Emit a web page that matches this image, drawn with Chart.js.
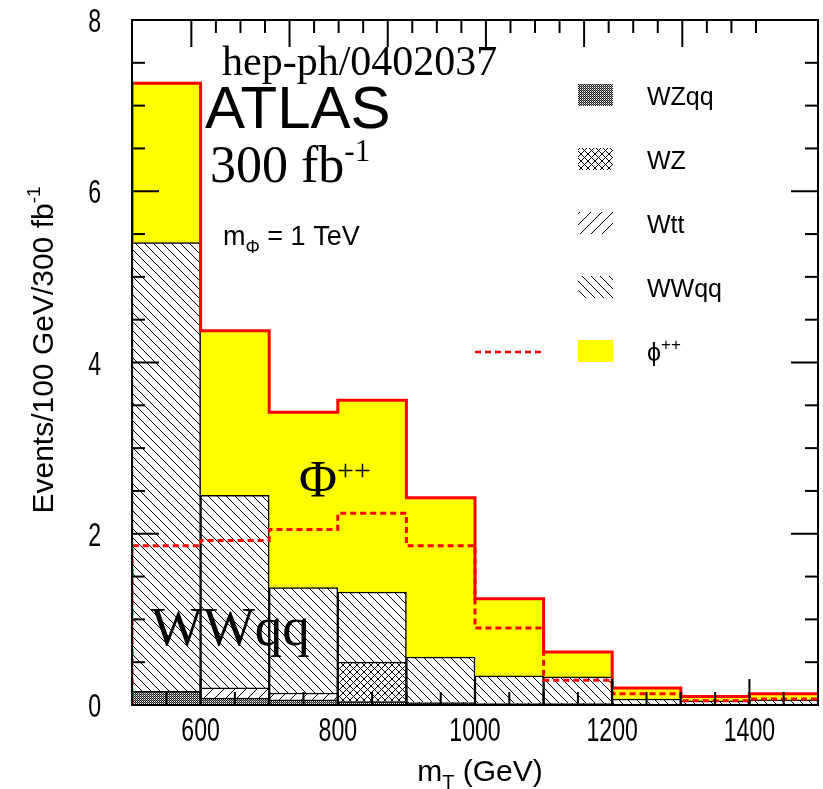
<!DOCTYPE html>
<html lang="en">
<head>
  <meta charset="UTF-8">
  <title>Phi++ transverse mass, ATLAS 300 fb-1</title>
  <script src="https://cdn.jsdelivr.net/npm/chart.js"></script>
  <style>
    body { margin: 0; background: #ffffff; }
    canvas { display: block; }
  </style>
</head>
<body>
  <canvas id="mtChart" width="823" height="789"></canvas>

  <script>
    // 100 GeV bins from 500 to 1500 GeV
    const binCentres = [550, 650, 750, 850, 950, 1050, 1150, 1250, 1350, 1450];
    const binEdges = [500, 600, 700, 800, 900, 1000, 1100, 1200, 1300, 1400, 1500];

    // stacked contributions, bottom to top (events / 100 GeV / 300 fb-1)
    const wzqq = [0.16, 0.08, 0.06, 0.04, 0.02, 0.01, 0.01, 0.01, 0.01, 0.01];
    const wz   = [0.00, 0.00, 0.00, 0.46, 0.00, 0.00, 0.00, 0.00, 0.00, 0.00];
    const wtt  = [0.00, 0.12, 0.08, 0.00, 0.01, 0.01, 0.01, 0.00, 0.00, 0.00];
    const wwqq = [5.24, 2.25, 1.23, 0.82, 0.53, 0.32, 0.31, 0.06, 0.04, 0.05];
    const phi  = [1.86, 1.92, 2.05, 2.24, 1.86, 0.90, 0.29, 0.13, 0.05, 0.07];

    const xTickLabels = [600, 800, 1000, 1200, 1400];
    const yTickLabels = [0, 2, 4, 6, 8];

    const SANS = "'Liberation Sans', Arial, sans-serif";
    const SERIF = "'Liberation Serif', 'Times New Roman', serif";

    // hatch fills
    function makePattern(kind) {
      const c = document.createElement('canvas');
      const g = c.getContext('2d');
      const s = { back: 9, fwd: 11, cross: 7, dots: 2 }[kind];
      c.width = s; c.height = s;
      g.fillStyle = '#fff';
      g.fillRect(0, 0, s, s);
      g.strokeStyle = '#000';
      g.lineWidth = 1;
      const diag = (dir) => {
        for (let k = -1; k <= 1; k++) {
          g.beginPath();
          if (dir > 0) { g.moveTo(k * s, 0); g.lineTo(k * s + s, s); }
          else { g.moveTo(k * s, s); g.lineTo(k * s + s, 0); }
          g.stroke();
        }
      };
      if (kind === 'back') diag(1);
      if (kind === 'fwd') diag(-1);
      if (kind === 'cross') { diag(1); diag(-1); }
      if (kind === 'dots') {
        g.fillStyle = '#222'; g.fillRect(0, 0, 1, 1); g.fillRect(1, 1, 1, 1);
        g.fillStyle = '#888'; g.fillRect(1, 0, 1, 1);
      }
      return g.createPattern(c, 'repeat');
    }

    const toXY = (vals) => vals.map((v, i) => ({ x: binCentres[i], y: v }));

    const background = binCentres.map((_, i) => wzqq[i] + wz[i] + wtt[i] + wwqq[i]);
    const total = background.map((b, i) => b + phi[i]);

    // step outlines along the bin edges
    function stepOutline(start, vals) {
      const pts = [{ x: binEdges[0], y: start }];
      vals.forEach((v, i) => pts.push({ x: binEdges[i], y: v }));
      pts.push({ x: binEdges[binEdges.length - 1], y: vals[vals.length - 1] });
      return pts;
    }

    function hist(label, vals, fill) {
      return {
        type: 'bar', label: label, data: toXY(vals),
        backgroundColor: fill, borderColor: '#000', borderWidth: 1.5,
        barPercentage: 1, categoryPercentage: 1, order: 3
      };
    }

    // text with sub/superscripts: parts = [text, font, dy]
    function drawParts(ctx, x, y, parts) {
      let cx = x;
      parts.forEach(([t, font, dy]) => {
        ctx.font = font;
        ctx.fillText(t, cx, y + (dy || 0));
        cx += ctx.measureText(t).width;
      });
      return cx - x;
    }
    function partsWidth(ctx, parts) {
      let w = 0;
      parts.forEach(([t, font]) => { ctx.font = font; w += ctx.measureText(t).width; });
      return w;
    }
    // narrow tick numbers
    function condensed(ctx, text, x, y, align) {
      ctx.save();
      ctx.translate(x, y);
      ctx.scale(0.7, 1);
      ctx.textAlign = align;
      ctx.font = '33px ' + SANS;
      ctx.fillText(text, 0, 0);
      ctx.restore();
    }

    const framePlugin = {
      id: 'frame',
      afterDatasetsDraw(chart) {
        const { ctx, chartArea: a, scales } = chart;
        const seg = (x1, y1, x2, y2) => { ctx.beginPath(); ctx.moveTo(x1, y1); ctx.lineTo(x2, y2); ctx.stroke(); };
        const whole = (v) => Math.abs(v - Math.round(v)) < 1e-6;
        ctx.save();
        ctx.strokeStyle = '#000';
        ctx.fillStyle = '#000';
        ctx.lineWidth = 2;
        const xs = scales.x, ys = scales.y;
        xs.ticks.forEach((t, i) => {
          const px = xs.getPixelForValue(t.value);
          if (t.value > xs.min && t.value < xs.max) {
            seg(px, a.bottom, px, a.bottom - (t.value % 200 === 0 ? 26 : 13));
          }
          if (i > 0) {
            const mid = xs.getPixelForValue((t.value + xs.ticks[i - 1].value) / 2);
            seg(mid, a.bottom, mid, a.bottom - 13);
          }
          if (xTickLabels.includes(t.value)) condensed(ctx, String(t.value), px, a.bottom + 36, 'center');
        });
        scales.xTop.ticks.forEach(t => {
          if (!whole(t.value)) return;
          const px = scales.xTop.getPixelForValue(t.value);
          seg(px, a.top, px, a.top + (Math.round(t.value) % 4 === 0 ? 27 : 13));
        });
        ys.ticks.forEach(t => {
          const py = ys.getPixelForValue(t.value);
          if (t.value > ys.min && t.value < ys.max) {
            const len = t.value % 2 === 0 ? 27 : 13;
            seg(a.left, py, a.left + len, py);
            seg(a.right, py, a.right - len, py);
          }
          if (yTickLabels.includes(t.value)) condensed(ctx, String(t.value), a.left - 31, py + 12, 'right');
        });
        ctx.strokeRect(a.left, a.top, a.right - a.left, a.bottom - a.top);
        ctx.restore();
      }
    };

    const textPlugin = {
      id: 'texts',
      afterDraw(chart) {
        const ctx = chart.ctx;
        ctx.save();
        ctx.fillStyle = '#000';
        ctx.textBaseline = 'alphabetic';
        ctx.textAlign = 'left';

        drawParts(ctx, 222, 75, [['hep-ph/0402037', '42px ' + SERIF]]);
        drawParts(ctx, 205, 128, [['ATLAS', '60px ' + SANS]]);
        drawParts(ctx, 210, 182, [['300 fb', '52px ' + SERIF], ['-1', '31px ' + SERIF, -21]]);
        drawParts(ctx, 223, 245, [['m', '27px ' + SANS], ['\u03A6', '18px ' + SANS, 8], [' = 1 TeV', '27px ' + SANS]]);
        drawParts(ctx, 299, 497, [['\u03A6', '52px ' + SERIF], ['++', '30px ' + SERIF, -17]]);
        drawParts(ctx, 151, 645, [['WWqq', '55px ' + SERIF]]);

        // legend
        const bars = chart.data.datasets.filter(d => d.type === 'bar');
        bars.forEach((d, i) => {
          const top = 84 + i * 64;
          ctx.fillStyle = d.backgroundColor;
          ctx.fillRect(578, top, 35, 22);
          ctx.fillStyle = '#000';
          if (d.label.endsWith('++')) {
            drawParts(ctx, 647, top + 21, [[d.label.slice(0, -2), '25px ' + SANS], ['++', '17px ' + SANS, -11]]);
          } else {
            drawParts(ctx, 647, top + 21, [[d.label, '25px ' + SANS]]);
          }
        });
        const dash = chart.data.datasets.find(d => d.label === 'signal');
        ctx.strokeStyle = dash.borderColor;
        ctx.lineWidth = 2.5;
        ctx.setLineDash(dash.borderDash);
        ctx.beginPath();
        ctx.moveTo(475, 352);
        ctx.lineTo(545, 352);
        ctx.stroke();
        ctx.setLineDash([]);

        // axis titles
        const xt = [['m', '30px ' + SANS], ['T', '20px ' + SANS, 8], [' (GeV)', '30px ' + SANS]];
        drawParts(ctx, 480 - partsWidth(ctx, xt) / 2, 781, xt);
        const yt = [['Events/100 GeV/300 fb', '30px ' + SANS], ['-1', '19px ' + SANS, -13]];
        ctx.translate(53, 350);
        ctx.rotate(-Math.PI / 2);
        drawParts(ctx, -partsWidth(ctx, yt) / 2, 0, yt);
        ctx.restore();
      }
    };

    new Chart(document.getElementById('mtChart'), {
      type: 'bar',
      data: {
        datasets: [
          hist('WZqq', wzqq, makePattern('dots')),
          hist('WZ', wz, makePattern('cross')),
          hist('Wtt', wtt, makePattern('fwd')),
          hist('WWqq', wwqq, makePattern('back')),
          {
            type: 'bar', label: '\u03D5++', data: toXY(phi),
            backgroundColor: '#ffff00', borderWidth: 0,
            barPercentage: 1, categoryPercentage: 1, order: 3
          },
          {
            type: 'line', label: 'total', data: stepOutline(background[0], total),
            stepped: 'before', borderColor: '#ff0000', borderWidth: 3,
            pointRadius: 0, fill: false, stack: 'total', order: 0
          },
          {
            type: 'line', label: 'signal', data: stepOutline(0, phi),
            stepped: 'before', borderColor: '#ff0000', borderWidth: 3, borderDash: [6, 4],
            pointRadius: 0, fill: false, stack: 'signal', order: 1
          }
        ]
      },
      options: {
        responsive: false,
        animation: false,
        layout: { padding: { top: 20, right: 5, left: 0, bottom: 0 } },
        plugins: { legend: { display: false }, tooltip: { enabled: false } },
        scales: {
          x: {
            type: 'linear', min: 500, max: 1500, stacked: true, offset: false,
            grid: { display: false, drawTicks: false },
            border: { display: false },
            ticks: { stepSize: 100, display: false },
            afterFit: (s) => { s.height = 84; }
          },
          xTop: {
            type: 'linear', position: 'top', display: false, min: -1.88, max: 24.99,
            ticks: { stepSize: 1 }
          },
          y: {
            min: 0, max: 8, stacked: true,
            grid: { display: false, drawTicks: false },
            border: { display: false },
            ticks: { stepSize: 0.5, display: false },
            afterFit: (s) => { s.width = 132; }
          }
        }
      },
      plugins: [framePlugin, textPlugin]
    });
  </script>
</body>
</html>
